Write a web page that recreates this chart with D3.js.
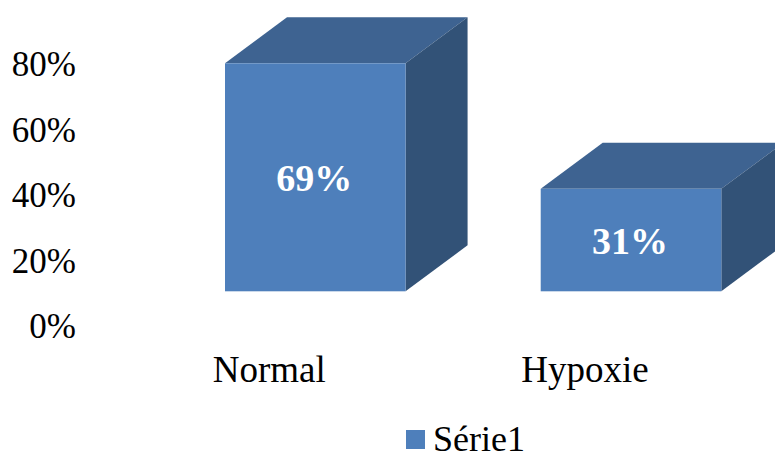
<!DOCTYPE html>
<html><head><meta charset="utf-8">
<script src="https://cdn.jsdelivr.net/npm/d3@7"></script>
<style>html,body{margin:0;padding:0;background:#fff}svg{display:block}</style>
</head><body><svg id="chart" width="775" height="453"></svg>
<script>
const categories = ["Normal", "Hypoxie"];
const values = [0.69, 0.31];
const valueLabels = ["69%", "31%"];
const axisTicks = [0, 0.2, 0.4, 0.6, 0.8];
const seriesName = "Série1";

const svg = d3.select("#chart");
const font = "'Liberation Serif','Times New Roman',serif";

// Oblique projection: the back face of each box is offset by this much.
const depthX = 62, depthY = 46;
const floorY = 291.3;

const axisY = d3.scaleLinear().domain([0, 0.8]).range([326, 64]);
const barY = d3.scaleLinear().domain([0, 0.69]).range([floorY, 63.3]);
const x = d3.scaleBand().domain(categories).range([225, 721.3]).paddingInner(0.428).paddingOuter(0);
const barWidth = x.bandwidth();

const bars = svg.selectAll("g.bar")
  .data(categories.map((c, i) => ({ c, v: values[i], label: valueLabels[i] })))
  .enter().append("g").attr("class", "bar");

// Top face
bars.append("path").attr("fill", "#3e6391").attr("d", d => {
  const l = x(d.c), t = barY(d.v);
  return `M${l},${t}L${l + depthX},${t - depthY}H${l + barWidth + depthX}L${l + barWidth},${t}Z`;
});
// Side face
bars.append("path").attr("fill", "#325277").attr("d", d => {
  const r = x(d.c) + barWidth, t = barY(d.v);
  return `M${r},${t}L${r + depthX},${t - depthY}V${floorY - depthY}L${r},${floorY}Z`;
});
// Front face
bars.append("rect").attr("fill", "#4e7fbb")
  .attr("x", d => x(d.c)).attr("y", d => barY(d.v))
  .attr("width", barWidth).attr("height", d => floorY - barY(d.v));
bars.append("text").text(d => d.label)
  .attr("x", d => x(d.c) + barWidth / 2 - 1)
  .attr("y", d => (barY(d.v) + floorY) / 2 + 14)
  .attr("text-anchor", "middle").attr("fill", "#fff")
  .style("font", `bold 38px ${font}`);

svg.selectAll("text.tick").data(axisTicks).enter().append("text").attr("class", "tick")
  .text(d3.format(".0%"))
  .attr("x", 76).attr("y", d => axisY(d) + 12)
  .attr("text-anchor", "end").attr("fill", "#000")
  .style("font", `35px ${font}`);

svg.selectAll("text.cat").data(categories).enter().append("text").attr("class", "cat")
  .text(d => d)
  .attr("x", d => x(d) + 44.3).attr("y", 382)
  .attr("text-anchor", "middle").attr("fill", "#000")
  .style("font", `37px ${font}`);

svg.append("rect").attr("x", 406).attr("y", 430).attr("width", 19).attr("height", 19).attr("fill", "#4e7fbb");
svg.append("text").text(seriesName).attr("x", 433).attr("y", 451).attr("fill", "#000")
  .style("font", `36px ${font}`);
</script></body></html>
